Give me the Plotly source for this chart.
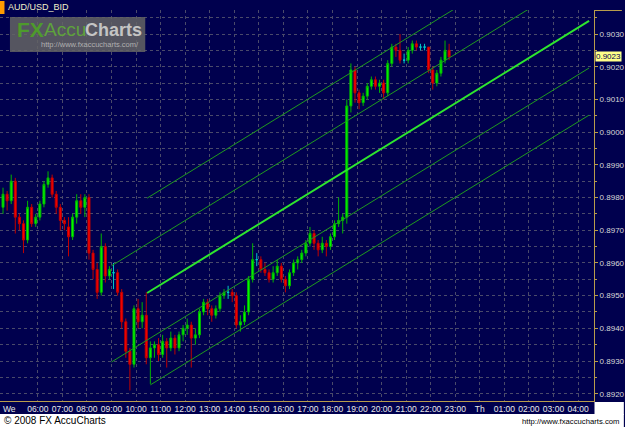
import pandas as pd
import plotly.graph_objects as go

# ---------------- data (prices in pips, 1 pip = 0.0001) ----------------
bar_open = [8977, 8981, 8979, 8985, 8974, 8972, 8967, 8977, 8972, 8974,
            8978, 8984, 8986, 8981, 8977, 8973, 8971, 8968, 8974, 8979,
            8977, 8980, 8963, 8958, 8951, 8965, 8956, 8957, 8957, 8951,
            8942, 8933, 8929, 8946, 8942, 8944, 8931, 8934, 8935, 8932,
            8936, 8934, 8937, 8934, 8938, 8940, 8941, 8937, 8938, 8945,
            8948, 8946, 8944, 8946, 8950, 8951, 8951, 8950, 8941, 8942,
            8945, 8955, 8961, 8961, 8958, 8957, 8955, 8957, 8959, 8955,
            8953, 8957, 8960, 8961, 8963, 8966, 8969, 8966, 8964, 8966,
            8965, 8968, 8972, 8973, 8974, 9008, 9019, 9012, 9009, 9011,
            9014, 9016, 9014, 9015, 9012, 9021, 9026, 9025, 9022, 9022,
            9025, 9027, 9026, 9026, 9026, 9019, 9015, 9018, 9022, 9025]
bar_high = [8983, 8982, 8987, 8986, 8975, 8973, 8979, 8978, 8975, 8979,
            8985, 8988, 8987, 8982, 8978, 8974, 8974, 8975, 8981, 8981,
            8981, 8981, 8964, 8960, 8969, 8966, 8959, 8960, 8958, 8952,
            8943, 8934, 8947, 8949, 8948, 8951, 8936, 8936, 8937, 8938,
            8937, 8939, 8938, 8939, 8941, 8943, 8942, 8940, 8946, 8949,
            8949, 8947, 8947, 8951, 8952, 8953, 8952, 8951, 8944, 8947,
            8956, 8966, 8963, 8962, 8960, 8958, 8959, 8961, 8960, 8956,
            8958, 8961, 8962, 8964, 8967, 8971, 8970, 8967, 8968, 8967,
            8969, 8973, 8980, 8975, 9010, 9021, 9020, 9013, 9012, 9015,
            9017, 9017, 9016, 9016, 9022, 9027, 9027, 9030, 9024, 9026,
            9028, 9028, 9027, 9027, 9026, 9020, 9019, 9023, 9028, 9027]
bar_low = [8975, 8976, 8978, 8969, 8970, 8963, 8966, 8971, 8971, 8973,
           8977, 8983, 8980, 8975, 8970, 8970, 8962, 8967, 8972, 8975,
           8974, 8961, 8955, 8949, 8950, 8954, 8955, 8952, 8950, 8940,
           8931, 8921, 8928, 8940, 8940, 8929, 8923, 8931, 8930, 8931,
           8928, 8933, 8932, 8933, 8936, 8938, 8928, 8935, 8937, 8944,
           8944, 8942, 8943, 8945, 8949, 8949, 8948, 8940, 8939, 8941,
           8944, 8954, 8959, 8957, 8956, 8954, 8954, 8956, 8954, 8951,
           8952, 8956, 8958, 8960, 8962, 8965, 8964, 8962, 8963, 8962,
           8964, 8967, 8971, 8969, 8972, 9006, 9009, 9007, 9008, 9010,
           9013, 9013, 9012, 9010, 9011, 9020, 9023, 9021, 9021, 9021,
           9024, 9025, 9025, 9025, 9018, 9013, 9014, 9017, 9021, 9022]
bar_close = [8981, 8979, 8985, 8974, 8972, 8967, 8977, 8972, 8974, 8978,
             8984, 8986, 8981, 8977, 8973, 8972, 8968, 8974, 8979, 8977,
             8980, 8963, 8958, 8951, 8965, 8956, 8958, 8957, 8951, 8942,
             8933, 8929, 8946, 8942, 8944, 8931, 8934, 8935, 8932, 8936,
             8934, 8937, 8934, 8938, 8940, 8941, 8937, 8938, 8945, 8948,
             8946, 8944, 8946, 8950, 8951, 8951, 8950, 8941, 8942, 8945,
             8955, 8961, 8961, 8958, 8957, 8955, 8957, 8959, 8955, 8953,
             8957, 8960, 8961, 8963, 8966, 8969, 8966, 8964, 8966, 8965,
             8968, 8972, 8973, 8974, 9008, 9019, 9012, 9009, 9011, 9014,
             9016, 9014, 9015, 9012, 9021, 9026, 9025, 9022, 9022, 9025,
             9027, 9026, 9026, 9026, 9019, 9015, 9018, 9022, 9025, 9023]
bar_first_time = "2008-01-02 04:35"   # Wednesday, 10-minute bars
bar_step = "10min"

channel_start_time = ["2008-01-02 10:27", "2008-01-02 09:00", "2008-01-02 10:27",
                      "2008-01-02 09:00", "2008-01-02 10:35"]
channel_end_time = ["2008-01-03 04:27"] * 5
channel_start_price = [0.89798, 0.89591, 0.89508, 0.89297, 0.89227]
channel_end_price = [0.90630, 0.90490, 0.90340, 0.90196, 0.90052]
channel_is_median = [False, False, True, False, False]

hour_labels = ["06:00", "07:00", "08:00", "09:00", "10:00", "11:00", "12:00",
               "13:00", "14:00", "15:00", "16:00", "17:00", "18:00", "19:00",
               "20:00", "21:00", "22:00", "23:00", "Th", "01:00", "02:00",
               "03:00", "04:00"]
last_price = "0.9023"
last_price_value = 0.9023
symbol = "AUD/USD_BID"

# ---------------- styling ----------------
NAVY = "#00004e"
GOLD = "#b89c4c"
GRID = "#4a4a6a"
W, H = 625, 427
ML, MR, MT, MB = 0, 28, 10, 26
PW, PH = W - ML - MR, H - MT - MB


def PX(x):
    return (x - ML) / PW


def PY(y):
    return (H - MB - y) / PH


times = pd.date_range(bar_first_time, periods=len(bar_close), freq=bar_step)
o = [v / 10000 for v in bar_open]
h = [v / 10000 for v in bar_high]
l = [v / 10000 for v in bar_low]
c = [v / 10000 for v in bar_close]

fig = go.Figure()

# channel (pitchfork) lines
for st, et, sp, ep, med in zip(channel_start_time, channel_end_time,
                               channel_start_price, channel_end_price,
                               channel_is_median):
    fig.add_trace(go.Scatter(
        x=[st, et], y=[sp, ep], mode="lines",
        line=dict(color="#2ee62e" if med else "#1f9a1f", width=2 if med else 1),
        hoverinfo="skip", showlegend=False))

groups = {
    "up": ([i for i in range(len(c)) if c[i] > o[i]], "#00b400", "#00ff00"),
    "down": ([i for i in range(len(c)) if c[i] < o[i]], "#c00000", "#ff0000"),
    "flat": ([i for i in range(len(c)) if c[i] == o[i]], "#00c8c8", "#00e0e0"),
}
for name, (idx, lc, fc) in groups.items():
    fig.add_trace(go.Candlestick(
        x=[times[i] for i in idx],
        open=[o[i] for i in idx], high=[h[i] for i in idx],
        low=[l[i] for i in idx], close=[c[i] for i in idx],
        increasing=dict(line=dict(color=lc, width=1), fillcolor=fc),
        decreasing=dict(line=dict(color=lc, width=1), fillcolor=fc),
        showlegend=False, name=name))

hour_ticks = pd.date_range("2008-01-02 06:00", periods=len(hour_labels), freq="1h")

fig.update_layout(
    width=W, height=H,
    margin=dict(l=ML, r=MR, t=MT, b=MB, pad=0),
    paper_bgcolor=NAVY, plot_bgcolor=NAVY,
    font=dict(family="Liberation Sans, Arial, sans-serif", size=9, color="#e0e0e0"),
    showlegend=False,
    xaxis=dict(
        type="date",
        range=["2008-01-02 04:27:37", "2008-01-03 04:39:00"],
        rangeslider=dict(visible=False),
        tickmode="array", tickvals=list(hour_ticks), ticktext=hour_labels,
        showgrid=True, gridcolor=GRID, griddash="dot", gridwidth=1,
        showline=True, linecolor=GOLD, linewidth=1,
        ticks="", tickfont=dict(size=8.5, color="#e8e8e8"),
        zeroline=False, fixedrange=True,
    ),
    yaxis=dict(
        side="right",
        range=[0.891777, 0.903734],
        dtick=0.001, tick0=0.89, tickformat=".4f",
        showgrid=True, gridcolor=GRID, griddash="dot", gridwidth=1,
        minor=dict(dtick=0.0005, showgrid=True, gridcolor=GRID, griddash="dot",
                   ticks="outside", ticklen=2, tickcolor=GOLD),
        showline=True, linecolor=GOLD, linewidth=1,
        ticks="outside", ticklen=3, tickcolor=GOLD,
        tickfont=dict(size=8, color="#d8d8d8"),
        zeroline=False, fixedrange=True,
    ),
)

shapes = [
    # white footer
    dict(type="rect", xref="paper", yref="paper", x0=PX(-2), x1=PX(W + 2),
         y0=PY(H + 2), y1=PY(414), fillcolor="white", line=dict(width=0), layer="below"),
    dict(type="rect", xref="paper", yref="paper", x0=PX(597.5), x1=PX(W + 2),
         y0=PY(415), y1=PY(402), fillcolor="white", line=dict(width=0), layer="below"),
    # gold cap at top of price axis
    dict(type="line", xref="paper", yref="paper", x0=PX(597), x1=PX(W),
         y0=PY(10.5), y1=PY(10.5), line=dict(color=GOLD, width=1)),
    # orange symbol marker
    dict(type="rect", xref="paper", yref="paper", x0=PX(0), x1=PX(4.5),
         y0=PY(14), y1=PY(1), fillcolor="#ff9c00", line=dict(width=0)),
    # logo box
    dict(type="rect", xref="paper", yref="paper", x0=PX(10), x1=PX(146),
         y0=PY(52), y1=PY(17), fillcolor="rgba(100,100,100,0.85)", line=dict(width=0),
         layer="above"),
]
fig.update_layout(shapes=shapes)

ann = [
    dict(text=symbol, x=PX(6), y=PY(7.5), xanchor="left", yanchor="middle",
         font=dict(size=9, color="#f0f0c8")),
    dict(text="<b>FX</b>", x=PX(15), y=PY(30), xanchor="left", yanchor="middle",
         font=dict(size=21, color="#4e9a2c")),
    dict(text="Accu", x=PX(42), y=PY(30), xanchor="left", yanchor="middle",
         font=dict(size=19, color="#5ea23c")),
    dict(text="<b>Charts</b>", x=PX(83), y=PY(30), xanchor="left", yanchor="middle",
         font=dict(size=18, color="#c4c4c4")),
    dict(text="http://www.fxaccucharts.com/", x=PX(39), y=PY(44), xanchor="left",
         yanchor="middle", font=dict(size=7.5, color="#b0b0b0")),
    dict(text="We", x=PX(1), y=PY(408.5), xanchor="left", yanchor="middle",
         font=dict(size=8.5, color="#e8e8e8")),
    dict(text="© 2008 FX AccuCharts", x=PX(2), y=PY(420.5), xanchor="left",
         yanchor="middle", font=dict(size=10, color="black")),
    dict(text="http://www.fxaccucharts.com", x=PX(624), y=PY(421), xanchor="right",
         yanchor="middle", font=dict(size=7.7, color="black")),
    dict(text=last_price, xref="paper", yref="y", x=PX(598), y=last_price_value,
         xanchor="left", yanchor="middle", bgcolor="#ffff88", borderpad=0,
         font=dict(size=8, color="#000050")),
]
for a in ann:
    a.setdefault("xref", "paper")
    a.setdefault("yref", "paper")
    a["showarrow"] = False
fig.update_layout(annotations=ann)

fig.write_html("out.html")
